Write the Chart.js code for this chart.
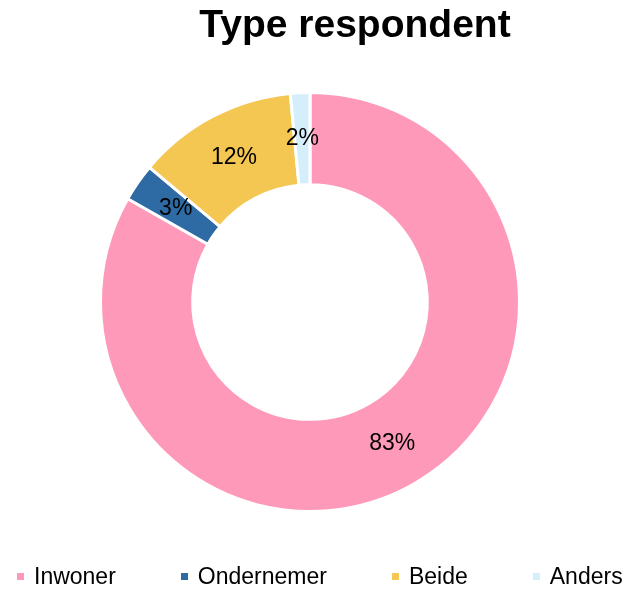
<!DOCTYPE html>
<html>
<head>
<meta charset="utf-8">
<script src="https://cdn.jsdelivr.net/npm/chart.js@4/dist/chart.umd.min.js"></script>
<style>
    html, body { margin: 0; padding: 0; background: #fff; }
    #wrap { position: relative; width: 632px; height: 589px; font-family: "Liberation Sans", Arial, sans-serif; }
    #chart { position: absolute; left: 0; top: 0; }
    #title {
        position: absolute; left: 355px; top: 5px; transform: translateX(-50%);
        font-size: 39px; line-height: 38px; font-weight: bold; color: #000; white-space: nowrap;
    }
    #legend {
        position: absolute; left: 17px; top: 565px; display: flex; gap: 65px;
        font-size: 23px; line-height: 23px; color: #000;
    }
    .legend-item { display: flex; align-items: center; white-space: nowrap; }
    .legend-box { width: 7px; height: 7px; margin-right: 10px; }
</style>
</head>
<body>
<div id="wrap">
    <canvas id="chart" width="632" height="589"></canvas>
    <div id="title">Type respondent</div>
    <div id="legend"></div>
</div>
<script>
// Chart data
const categories = ['Inwoner', 'Ondernemer', 'Beide', 'Anders'];
const shares = [83.2, 2.9, 12.4, 1.5];
const colors = ['#FF99B9', '#2E6BA4', '#F4C652', '#D5EEFB'];

// Draws the percentage label in the middle of every slice
const sliceLabels = {
    id: 'sliceLabels',
    afterDatasetsDraw(chart) {
        const ctx = chart.ctx;
        const meta = chart.getDatasetMeta(0);
        const data = chart.data.datasets[0].data;
        ctx.save();
        ctx.font = '23px "Liberation Sans", Arial, sans-serif';
        ctx.fillStyle = '#000';
        ctx.textAlign = 'center';
        ctx.textBaseline = 'middle';
        meta.data.forEach((arc, i) => {
            const pos = arc.tooltipPosition();
            ctx.fillText(Math.round(data[i]) + '%', pos.x, pos.y);
        });
        ctx.restore();
    }
};

const chart = new Chart(document.getElementById('chart').getContext('2d'), {
    type: 'doughnut',
    data: {
        labels: categories,
        datasets: [{
            data: shares,
            backgroundColor: colors,
            borderColor: '#fff',
            borderWidth: 3
        }]
    },
    options: {
        responsive: false,
        animation: false,
        cutout: '56%',
        layout: { padding: { left: 99, right: 111, top: 91, bottom: 76 } },
        plugins: {
            legend: { display: false },
            title: { display: false },
            tooltip: { enabled: false }
        }
    },
    plugins: [sliceLabels]
});

// Legend built from the chart's own label items
function buildLegend() {
    const box = document.getElementById('legend');
    const items = Chart.overrides.doughnut.plugins.legend.labels.generateLabels(chart);
    items.forEach(item => {
        const div = document.createElement('div');
        div.className = 'legend-item';
        div.innerHTML = `<span class="legend-box" style="background:${item.fillStyle}"></span><span>${item.text}</span>`;
        box.appendChild(div);
    });
}
buildLegend();
</script>
</body>
</html>
